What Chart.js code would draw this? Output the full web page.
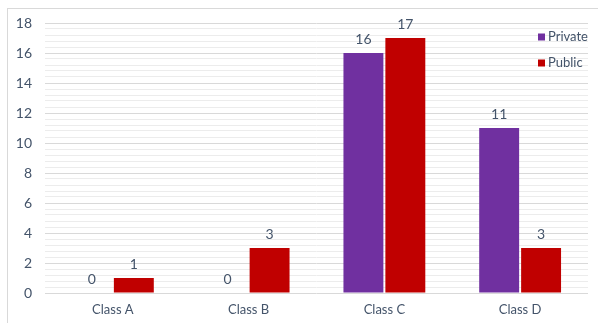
<!DOCTYPE html>
<html>
<head>
<meta charset="utf-8">
<script src="https://cdn.jsdelivr.net/npm/chart.js@4"></script>
<style>
    html, body {margin: 0; padding: 0; background: #ffffff;}
    #wrap {width: 598px; height: 323px; position: relative;}
</style>
</head>
<body>
<div id="wrap"><canvas id="school_canvas"></canvas></div>
<script>
const class_names = ["Class A", "Class B", "Class C", "Class D"];
const private_counts = [0, 0, 16, 11];
const public_counts = [1, 3, 17, 3];
const y_max = 18;

const text_color = "#44546a";
const font_family = "Lato, 'Open Sans', sans-serif";

function is_major(value) {
    return Math.abs(value / 2 - Math.round(value / 2)) < 1e-6;
}

// outer frame around the whole chart
const frame_plugin = {
    id: "frame",
    beforeDraw(chart) {
        const ctx = chart.ctx;
        ctx.save();
        ctx.strokeStyle = "#d9d9d9";
        ctx.lineWidth = 1;
        ctx.strokeRect(7.5, 8.5, 620, 340);
        ctx.restore();
    }
};

// value written above each bar
const value_label_plugin = {
    id: "value_labels",
    afterDatasetsDraw(chart) {
        const ctx = chart.ctx;
        ctx.save();
        ctx.font = "14px " + font_family;
        ctx.fillStyle = text_color;
        ctx.textAlign = "center";
        ctx.textBaseline = "middle";
        chart.data.datasets.forEach((dataset, i) => {
            const meta = chart.getDatasetMeta(i);
            meta.data.forEach((bar, j) => {
                ctx.fillText(String(dataset.data[j]), bar.x, bar.y - 14);
            });
        });
        ctx.restore();
    }
};

// small legend sitting over the top right of the plot
const corner_legend_plugin = {
    id: "corner_legend",
    afterDraw(chart) {
        const ctx = chart.ctx;
        ctx.save();
        ctx.font = "13px " + font_family;
        ctx.textBaseline = "middle";
        ctx.textAlign = "left";
        chart.data.datasets.forEach((dataset, i) => {
            const y = 37 + i * 26;
            ctx.fillStyle = dataset.backgroundColor;
            ctx.fillRect(538, y - 3.5, 7, 7);
            ctx.fillStyle = text_color;
            ctx.fillText(dataset.label, 548, y);
        });
        ctx.restore();
    }
};

let data = {
    labels: class_names,
    datasets: [
        {
            label: "Private",
            data: private_counts,
            backgroundColor: "#7030a0",
            borderWidth: 0
        },
        {
            label: "Public",
            data: public_counts,
            backgroundColor: "#c00000",
            borderWidth: 0
        }
    ]
};

let config = {
    type: 'bar',
    data: data,
    options: {
        responsive: true,
        maintainAspectRatio: false,
        animation: false,
        layout: {
            padding: {left: 8, right: 10, top: 23, bottom: 0}
        },
        plugins: {
            legend: {display: false},
            tooltip: {enabled: false}
        },
        datasets: {
            bar: {
                categoryPercentage: 84 / 136,
                barPercentage: 40 / 42
            }
        },
        scales: {
            x: {
                grid: {display: false, drawTicks: false},
                border: {display: false},
                ticks: {
                    color: text_color,
                    font: {family: font_family, size: 13},
                    padding: 9
                },
                afterFit: function(scale) {
                    scale.height = 30;
                }
            },
            y: {
                min: 0,
                max: y_max,
                border: {display: false},
                grid: {
                    drawTicks: false,
                    color: function(context) {
                        return is_major(context.tick.value) ? "#d9d9d9" : "#ececec";
                    }
                },
                ticks: {
                    stepSize: 0.4,
                    maxTicksLimit: 100,
                    autoSkip: false,
                    color: text_color,
                    font: {family: font_family, size: 14},
                    padding: 13,
                    callback: function(value) {
                        return is_major(value) ? String(Math.round(value)) : "";
                    }
                },
                afterFit: function(scale) {
                    scale.width = 37;
                }
            }
        }
    },
    plugins: [frame_plugin, value_label_plugin, corner_legend_plugin]
};

const school_plot = new Chart(document.getElementById('school_canvas'), config);
</script>
</body>
</html>
